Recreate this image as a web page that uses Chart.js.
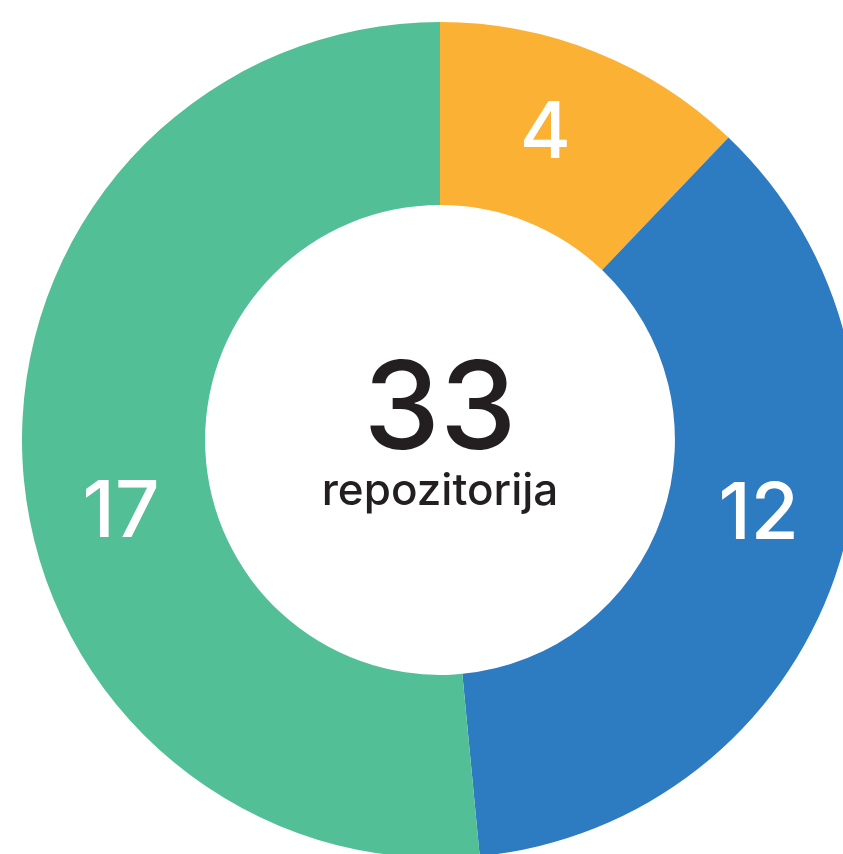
<!DOCTYPE html>
<html>
<head>
<meta charset="utf-8">
<script src="https://cdn.jsdelivr.net/npm/chart.js@4.4.1/dist/chart.umd.min.js"></script>
<style>
    html, body { margin: 0; padding: 0; background: #fff; overflow: hidden; }
    #wrap { position: absolute; left: 0; top: 0; width: 880px; height: 880px; }
</style>
</head>
<body>
<div id="wrap"><canvas id="repoChart"></canvas></div>
<script>
const labels = ['A', 'B', 'C'];
const values = [4, 12, 17];
const colors = ['#fbb234', '#2d7bc1', '#53bf96'];
const totalLabel = 'repozitorija';

const total = values.reduce((a, b) => a + b, 0);

// values inside slices + total in the hole
const sliceText = {
    id: 'sliceText',
    afterDraw(chart, args, opts) {
        const ctx = chart.ctx;
        const meta = chart.getDatasetMeta(0);
        const shift = opts.angleShift || [];
        ctx.save();
        ctx.textAlign = 'center';
        ctx.textBaseline = 'middle';
        ctx.fillStyle = '#ffffff';
        ctx.font = '500 78px Inter, "Open Sans", sans-serif';
        meta.data.forEach((arc, i) => {
            const a = (arc.startAngle + arc.endAngle) / 2 + (shift[i] || 0) * Math.PI / 180;
            const r = (arc.innerRadius + arc.outerRadius) / 2;
            ctx.fillText(String(values[i]), arc.x + Math.cos(a) * r, arc.y + Math.sin(a) * r + 4);
        });
        const c = meta.data[0];
        ctx.fillStyle = '#231f20';
        ctx.font = '500 122px Inter, "Open Sans", sans-serif';
        ctx.fillText(String(total), c.x, c.y - 28);
        ctx.font = '500 44px Inter, "Open Sans", sans-serif';
        ctx.fillText(totalLabel, c.x, c.y + 52);
        ctx.restore();
    }
};

new Chart(document.getElementById('repoChart').getContext('2d'), {
    type: 'doughnut',
    data: {
        labels: labels,
        datasets: [{ data: values, backgroundColor: colors, borderWidth: 0 }]
    },
    options: {
        responsive: true, maintainAspectRatio: false, animation: false,
        cutout: '56.2%',
        layout: { padding: 22 },
        plugins: {
            legend: { display: false }, tooltip: { enabled: false },
            sliceText: { angleShift: [-3, -6.5, -9.6] }
        }
    },
    plugins: [sliceText]
});
</script>
</body>
</html>
